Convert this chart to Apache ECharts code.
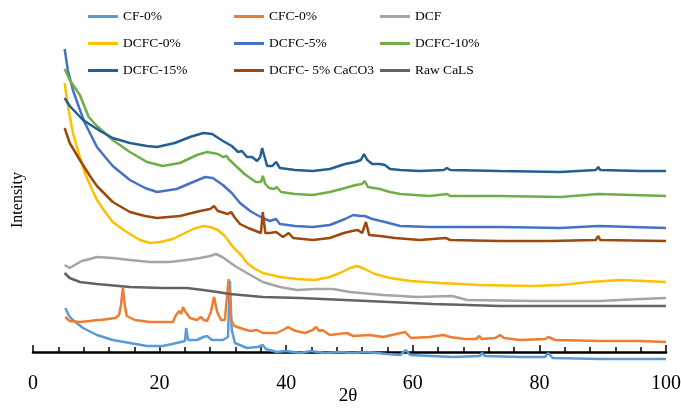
<!DOCTYPE html>
<html>
<head>
<meta charset="utf-8">
<script src="https://cdn.jsdelivr.net/npm/echarts@6/dist/echarts.min.js"></script>
<style>
  html, body { margin: 0; padding: 0; background: #fff; }
  #chart { width: 681px; height: 408px; }
</style>
</head>
<body>
<div id="chart"></div>
<script>
// XRD patterns: [2θ (degrees), intensity (a.u., stacked offsets)]
const seriesNames = ['CF-0%', 'CFC-0%', 'DCF', 'DCFC-0%', 'DCFC-5%', 'DCFC-10%', 'DCFC-15%', 'DCFC- 5% CaCO3', 'Raw CaLS'];
const seriesColors = ['#5B9BD5', '#ED7D31', '#A5A5A5', '#FFC000', '#4472C4', '#70AD47', '#255E91', '#9E480E', '#636363'];
const xTicks = [0, 20, 40, 60, 80, 100];

const cf0 = [[5.1,44],[5.7,36],[6.3,32],[7.9,24],[10.1,17],[12.6,12],[15.3,9],[18.0,6],[20.5,6],[22.7,9],[24.0,11],[24.2,24],[24.5,12],[25.9,12],[26.9,15],[27.5,16],[28.3,12],[30.0,12],[30.8,15],[31.1,71],[31.4,22],[31.9,9],[33.8,4],[35.5,5],[36.3,7],[36.5,9],[36.8,3],[38.5,0],[40.0,1],[40.1,-1],[42.2,-1],[43.9,1],[46.1,-1],[48.5,0],[50.4,-1],[52.8,0],[55.9,-2],[58.0,-3],[58.9,2],[59.6,-3],[66.4,-5],[70.6,-4],[70.9,-1],[71.4,-4],[76.9,-5],[80.9,-5],[81.4,-1],[82.1,-6],[89.6,-7],[100,-7]];

const cfc0 = [[5.1,35],[5.8,31],[7.4,30],[9.0,31],[10.1,32],[10.4,33],[10.7,32],[13.0,34],[13.6,37],[13.9,47],[14.2,64],[14.5,47],[14.8,36],[16.1,32],[18.5,30],[22.1,30],[22.6,37],[23.1,41],[23.4,38],[23.7,45],[24.0,41],[24.3,39],[24.8,34],[25.9,32],[26.5,35],[27.0,32],[27.5,31],[28.1,40],[28.6,55],[29.1,40],[29.7,32],[30.3,32],[30.6,52],[30.9,73],[31.1,52],[31.3,32],[31.8,26],[33.2,23],[34.3,21],[35.4,22],[36.3,19],[38.5,19],[39.8,23],[40.3,25],[40.8,23],[41.1,25],[41.5,21],[43.0,19],[44.2,22],[44.7,25],[45.2,21],[45.7,22],[46.9,17],[49.6,19],[50.6,16],[53.2,17],[55.3,15],[58.8,20],[59.7,14],[62.7,15],[64.8,17],[65.9,15],[68.2,13],[70.0,13],[70.5,16],[70.9,13],[73.0,14],[73.8,17],[74.4,14],[76.9,12],[80.9,13],[81.4,15],[82.5,12],[89.6,11],[95.9,11],[100,10]];

const dcf = [[5,87],[5.8,84],[6.6,87],[7.7,91],[9.0,93],[10.1,95],[12.6,94],[15.3,92],[18.5,90],[21.6,90],[24.3,92],[26.4,94],[28.0,96],[28.9,98],[29.9,95],[30.8,91],[31.9,86],[33.8,79],[36.3,70],[39.0,65],[41.7,62],[44.5,63],[47.4,63],[50.1,60],[55.3,57],[60.7,55],[66.2,56],[68.6,52],[79.0,51],[89.6,51],[95.9,53],[100,54]];

const dcfc0 = [[5,269],[5.5,247],[6.3,219],[7.3,197],[8.2,179],[9.2,164],[10.1,152],[11.4,140],[12.6,130],[14.1,123],[15.3,118],[16.9,112],[18.5,109],[20.1,110],[22.1,113],[23.7,118],[25.3,123],[26.9,126],[28.0,125],[29.2,122],[30.3,116],[31.6,105],[33.0,96],[33.8,89],[35.1,83],[36.3,79],[39.0,75],[41.7,73],[44.5,72],[46.9,75],[48.5,79],[50.1,84],[51.2,86],[52.4,83],[54.0,78],[56.4,74],[59.6,71],[64.3,69],[70.6,67],[78.5,66],[83.3,67],[88.0,70],[92.7,72],[96.7,71],[100,70]];

const dcfc5 = [[5,303],[5.5,282],[6.3,262],[7.3,244],[8.2,229],[10.1,205],[11.4,195],[12.6,186],[15.3,172],[17.7,164],[19.6,160],[22.7,163],[25.3,170],[27.2,175],[28.4,174],[30.0,167],[31.4,159],[32.7,149],[34.3,141],[35.4,137],[36.3,134],[37.4,131],[38.4,133],[39.0,128],[41.4,126],[44.2,125],[46.9,127],[49.3,133],[50.6,137],[51.7,136],[52.4,136],[53.6,133],[55.6,130],[58.0,126],[62.7,125],[73.8,125],[83.3,124],[89.3,126],[100,124]];

const dcfc10 = [[5,283],[5.8,272],[7.4,257],[8.8,235],[10.1,226],[12.6,212],[15.3,200],[18.0,190],[20.5,186],[23.2,189],[25.9,197],[27.5,200],[29.2,198],[30.0,195],[30.6,196],[30.9,193],[31.9,187],[33.4,178],[35.2,170],[36.0,170],[36.3,176],[36.7,168],[37.3,164],[38.1,163],[38.5,165],[39.2,160],[41.4,158],[44.2,157],[46.9,160],[49.3,164],[51.0,167],[52.0,168],[52.4,171],[52.9,165],[54.8,163],[56.4,160],[58.0,158],[62.7,156],[65.4,158],[65.9,156],[73.8,156],[83.3,155],[89.3,158],[89.6,156],[100,156]];

const dcfc15 = [[5,254],[5.8,246],[7.9,232],[10.6,221],[12.6,214],[15.3,209],[18.0,206],[19.6,205],[22.4,209],[24.8,215],[26.9,219],[28.3,218],[30.0,211],[31.4,206],[32.4,200],[33.0,201],[33.8,195],[34.6,195],[35.4,191],[35.9,195],[36.2,204],[36.5,197],[37.0,186],[37.8,186],[38.4,190],[39.0,184],[41.4,182],[44.2,181],[46.9,183],[49.3,188],[50.9,190],[51.8,192],[52.3,198],[52.8,192],[53.6,188],[54.8,188],[55.6,187],[56.4,183],[58.0,182],[61.1,181],[64.9,182],[65.4,184],[65.9,182],[73.8,181],[83.3,180],[88.9,182],[89.3,185],[89.6,182],[95.9,181],[100,181]];

const dcfc5CaCO3 = [[5,224],[5.8,209],[7.4,192],[9.0,176],[10.1,166],[12.6,150],[15.3,140],[17.7,136],[19.6,134],[23.2,136],[26.4,141],[28.0,143],[28.6,146],[29.2,141],[30.8,138],[31.3,140],[31.8,135],[32.7,128],[34.0,124],[34.3,126],[35.2,121],[36.0,119],[36.3,140],[36.7,119],[37.4,119],[38.4,120],[39.5,115],[40.4,119],[41.1,114],[44.2,112],[46.9,114],[49.1,119],[50.4,121],[51.3,122],[52.0,119],[52.6,130],[53.1,117],[54.8,116],[57.2,114],[61.1,112],[65.2,114],[65.9,112],[73.8,111],[81.7,111],[88.9,112],[89.3,116],[89.6,112],[100,111]];

const rawCaLS = [[5,79],[5.8,74],[7.4,70],[10.1,68],[15.3,65],[20.5,64],[24.3,64],[26.9,62],[29.1,60],[31.1,58],[36.3,55],[42.2,54],[52.8,51],[63.2,48],[73.8,46],[84.4,46],[100,46]];

const seriesData = [cf0, cfc0, dcf, dcfc0, dcfc5, dcfc10, dcfc15, dcfc5CaCO3, rawCaLS];

const FONT = 'Liberation Serif';

const chart = echarts.init(document.getElementById('chart'), null, { renderer: 'canvas' });

function legendColumn(left, names) {
  return {
    left: left, top: 3, orient: 'vertical', padding: 0,
    itemWidth: 30, itemHeight: 3, itemGap: 0, icon: 'rect',
    selectedMode: false,
    itemStyle: { borderWidth: 0 },
    textStyle: { fontFamily: FONT, fontSize: 13.5, lineHeight: 27, color: '#000' },
    data: names
  };
}

chart.setOption({
  animation: false,
  backgroundColor: '#fff',
  grid: { left: 33, right: 15, top: 22, bottom: 46, outerBoundsMode: 'none', containLabel: false },
  legend: [
    legendColumn(88, [seriesNames[0], seriesNames[3], seriesNames[6]]),
    legendColumn(234, [seriesNames[1], seriesNames[4], seriesNames[7]]),
    legendColumn(380, [seriesNames[2], seriesNames[5], seriesNames[8]])
  ],
  graphic: [{
    type: 'text', x: 18, y: 200, rotation: Math.PI / 2,
    style: { text: 'Intensity', fontFamily: FONT, fontSize: 16, fill: '#000', align: 'center', verticalAlign: 'middle' }
  }, {
    type: 'text', x: 348, y: 396,
    style: { text: '2θ', fontFamily: FONT, fontSize: 19, fill: '#000', align: 'center', verticalAlign: 'middle' }
  }],
  xAxis: {
    type: 'value', min: xTicks[0], max: xTicks[xTicks.length - 1], interval: 20,
    axisLine: { onZero: true, lineStyle: { color: '#000', width: 2.5 } },
    axisTick: { show: true, inside: true, length: 7, lineStyle: { color: '#000', width: 1.5 } },
    minorTick: { show: true, splitNumber: 5, length: 5, lineStyle: { color: '#000', width: 1.5 } },
    axisLabel: { fontFamily: FONT, fontSize: 20, color: '#000', margin: 12 },
    splitLine: { show: false }
  },
  yAxis: {
    type: 'value', min: -10, max: 330,
    axisLine: { show: false }, axisTick: { show: false },
    axisLabel: { show: false }, splitLine: { show: false }
  },
  series: seriesNames.map((name, i) => ({
    name: name,
    type: 'line',
    data: seriesData[i],
    showSymbol: false,
    symbol: 'none',
    color: seriesColors[i],
    lineStyle: { color: seriesColors[i], width: 2.5 },
    clip: false
  }))
});
</script>
</body>
</html>
